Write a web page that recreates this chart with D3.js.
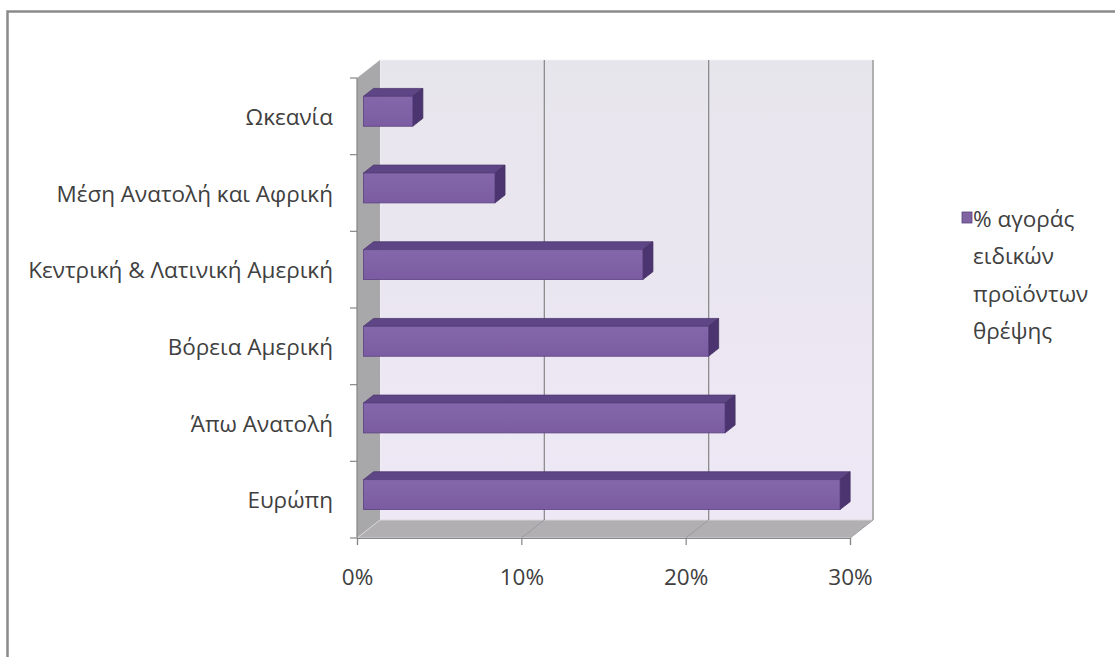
<!DOCTYPE html>
<html>
<head>
<meta charset="utf-8">
<script src="https://cdn.jsdelivr.net/npm/d3@7"></script>
<style>
  html, body { margin: 0; padding: 0; background: #ffffff; }
  svg { display: block; }
  text { font-family: "Open Sans", "Noto Sans", sans-serif; fill: #404040; }
</style>
</head>
<body>
<svg id="chart" width="1115" height="657"></svg>
<script>
// Market share of specialised nutrition products by region (%)
const categories = ["Ευρώπη", "Άπω Ανατολή", "Βόρεια Αμερική", "Κεντρική & Λατινική Αμερική", "Μέση Ανατολή και Αφρική", "Ωκεανία"];
const values = [29, 22, 21, 17, 8, 3];
const tickValues = [0, 10, 20, 30];
const legendLines = ["% αγοράς", "ειδικών", "προϊόντων", "θρέψης"];

const svg = d3.select("#chart");
const fontSize = "22.5px";

// Plot box (front plane) and 3D depth offset
const plot = { left: 357, right: 850, top: 78, bottom: 538 };
const DX = 23, DY = -18;          // full depth of the chart box
const z0 = 0.28, z1 = 0.72;       // depth slice occupied by the bars

const x = d3.scaleLinear().domain([0, 30]).range([plot.left, plot.right]);
const y = d3.scaleBand()
  .domain(categories.slice().reverse())
  .range([plot.top, plot.bottom])
  .paddingInner(0.61)
  .paddingOuter(0.305);

const defs = svg.append("defs");
const wallGrad = defs.append("linearGradient").attr("id", "wallGrad")
  .attr("x1", 0).attr("y1", 0).attr("x2", 0).attr("y2", 1);
wallGrad.append("stop").attr("offset", "0%").attr("stop-color", "#e7e5ec");
wallGrad.append("stop").attr("offset", "100%").attr("stop-color", "#eee8f6");

const frontGrad = defs.append("linearGradient").attr("id", "frontGrad")
  .attr("x1", 0).attr("y1", 0).attr("x2", 0).attr("y2", 1);
frontGrad.append("stop").attr("offset", "0%").attr("stop-color", "#8467aa");
frontGrad.append("stop").attr("offset", "100%").attr("stop-color", "#7b5ca2");

// Outer chart border (top and left edges visible)
svg.append("path")
  .attr("d", "M7.5,665 V11.5 H1125")
  .attr("fill", "none").attr("stroke", "#8a8a8a").attr("stroke-width", 2.5);

const pt = (px, py) => px + "," + py;

// Back wall
svg.append("polygon")
  .attr("points", [pt(plot.left + DX, plot.top + DY), pt(plot.right + DX, plot.top + DY),
                   pt(plot.right + DX, plot.bottom + DY), pt(plot.left + DX, plot.bottom + DY)].join(" "))
  .attr("fill", "url(#wallGrad)").attr("stroke", "#f4f2f8").attr("stroke-width", 1);

// Side wall
svg.append("polygon")
  .attr("points", [pt(plot.left, plot.top), pt(plot.left + DX, plot.top + DY),
                   pt(plot.left + DX, plot.bottom + DY), pt(plot.left, plot.bottom)].join(" "))
  .attr("fill", "#a8a7a9");

// Floor
svg.append("polygon")
  .attr("points", [pt(plot.left, plot.bottom), pt(plot.left + DX, plot.bottom + DY),
                   pt(plot.right + DX, plot.bottom + DY), pt(plot.right, plot.bottom)].join(" "))
  .attr("fill", "#b2afb3").attr("stroke", "#d6d4d8").attr("stroke-width", 1);

// Gridlines on back wall and floor
const grid = svg.append("g");
tickValues.filter(t => t > 0).forEach(t => {
  grid.append("line")
    .attr("x1", x(t) + DX).attr("x2", x(t) + DX)
    .attr("y1", plot.top + DY).attr("y2", plot.bottom + DY)
    .attr("stroke", "#8c8c8c").attr("stroke-width", 1.3);
  grid.append("line")
    .attr("x1", x(t) + DX).attr("x2", x(t))
    .attr("y1", plot.bottom + DY).attr("y2", plot.bottom)
    .attr("stroke", "#9c9a9e").attr("stroke-width", 1);
});

// Bars
const ddx = (z1 - z0) * DX, ddy = (z1 - z0) * DY;
const bw = y.bandwidth();
const bars = svg.append("g").selectAll("g.bar")
  .data(categories.map((c, i) => ({ c, v: values[i] })))
  .join("g").attr("class", "bar");

bars.each(function (d) {
  const g = d3.select(this);
  const X0 = x(0) + z0 * DX, X1 = x(d.v) + z0 * DX;
  const Y0 = y(d.c) + z0 * DY;
  // top face
  g.append("polygon")
    .attr("points", [pt(X0, Y0), pt(X1, Y0), pt(X1 + ddx, Y0 + ddy), pt(X0 + ddx, Y0 + ddy)].join(" "))
    .attr("fill", "#5e4585").attr("stroke", "#4e386f").attr("stroke-width", 0.8);
  // side face
  g.append("polygon")
    .attr("points", [pt(X1, Y0), pt(X1 + ddx, Y0 + ddy), pt(X1 + ddx, Y0 + ddy + bw), pt(X1, Y0 + bw)].join(" "))
    .attr("fill", "#4c3470").attr("stroke", "#42305f").attr("stroke-width", 0.8);
  // front face
  g.append("rect")
    .attr("x", X0).attr("y", Y0).attr("width", X1 - X0).attr("height", bw)
    .attr("fill", "url(#frontGrad)").attr("stroke", "#5a4280").attr("stroke-width", 0.8);
});

// Category axis
const catAxis = svg.append("g");
catAxis.append("line")
  .attr("x1", plot.left).attr("x2", plot.left)
  .attr("y1", plot.top).attr("y2", plot.bottom)
  .attr("stroke", "#868686").attr("stroke-width", 1.2);
d3.range(categories.length + 1).forEach(i => {
  const yy = plot.top + i * y.step();
  catAxis.append("line")
    .attr("x1", plot.left - 7).attr("x2", plot.left)
    .attr("y1", yy).attr("y2", yy)
    .attr("stroke", "#868686").attr("stroke-width", 1.2);
});
catAxis.selectAll("text.cat")
  .data(categories)
  .join("text").attr("class", "cat")
  .attr("x", 333)
  .attr("y", d => y(d) + bw / 2)
  .attr("text-anchor", "end")
  .attr("dominant-baseline", "central")
  .style("font-size", fontSize)
  .text(d => d);

// Value axis
const xAxis = svg.append("g")
  .attr("transform", `translate(0,${plot.bottom})`)
  .call(d3.axisBottom(x).tickValues(tickValues).tickFormat(d => d + "%").tickSize(7).tickPadding(24));
xAxis.select(".domain").attr("stroke", "#868686").attr("stroke-width", 1.2);
xAxis.selectAll(".tick line").attr("stroke", "#868686").attr("stroke-width", 1.2);
xAxis.selectAll(".tick text")
  .style("font-size", fontSize)
  .style("font-family", "\"Open Sans\", \"Noto Sans\", sans-serif")
  .attr("fill", "#404040");

// Legend
const legend = svg.append("g").attr("transform", "translate(962,212)");
legend.append("rect")
  .attr("width", 10).attr("height", 11)
  .attr("fill", "#8064a2").attr("stroke", "#5a4280").attr("stroke-width", 0.8);
legend.selectAll("text")
  .data(legendLines)
  .join("text")
  .attr("x", 11)
  .attr("y", (d, i) => 6 + i * 37.5)
  .attr("dominant-baseline", "central")
  .style("font-size", fontSize)
  .text(d => d);
</script>
</body>
</html>
